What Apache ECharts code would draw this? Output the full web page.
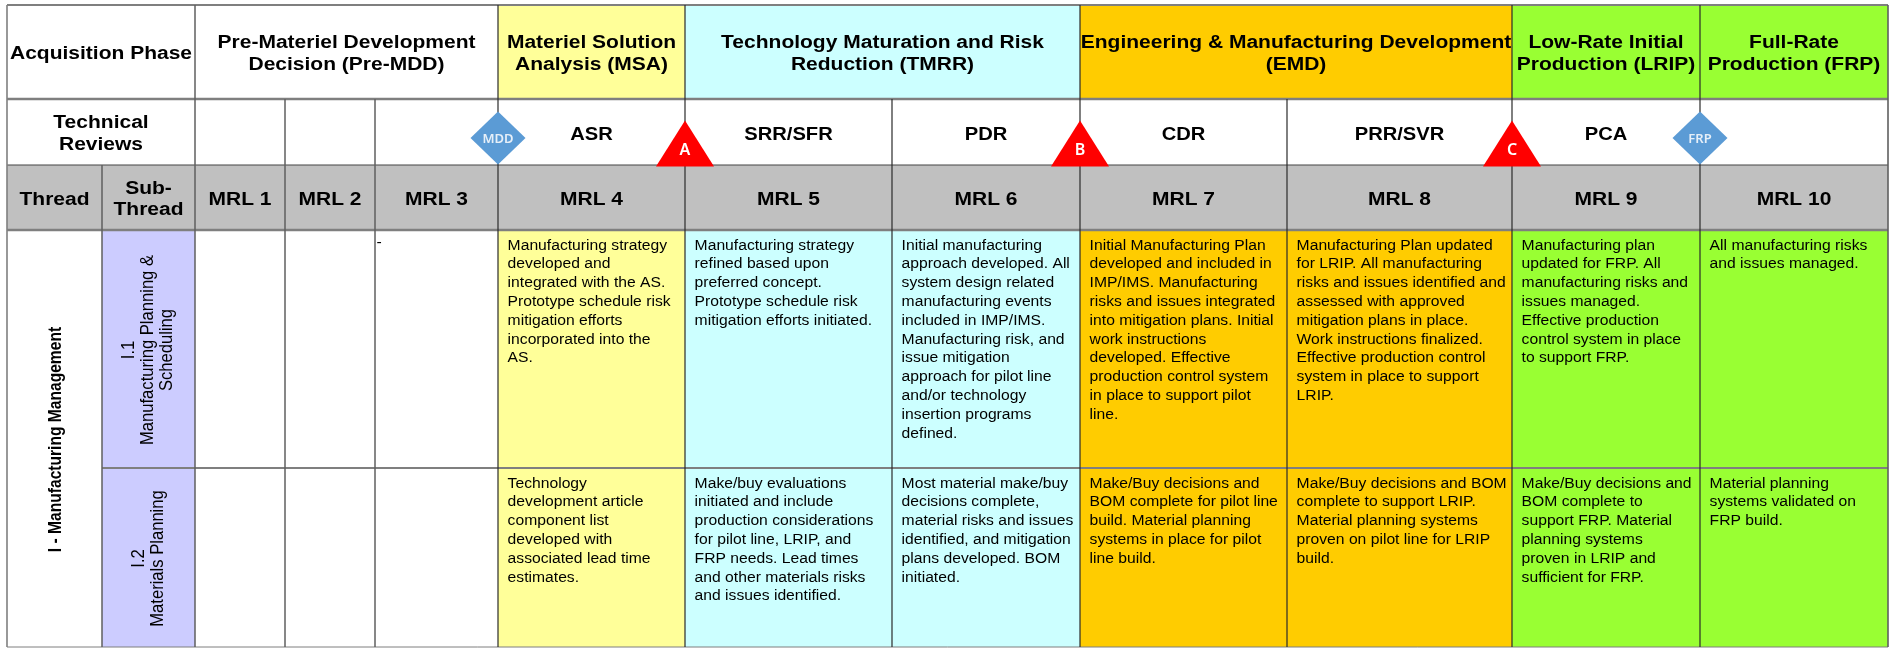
<!DOCTYPE html>
<html><head><meta charset="utf-8">
<style>html,body{margin:0;padding:0;background:#fff}#c{width:1895px;height:648px;filter:blur(0.45px)}</style>
<script src="https://cdn.jsdelivr.net/npm/echarts@6/dist/echarts.min.js"></script>
</head><body><div id="c"></div>
<script>
// ---------- table content ----------
const acquisitionTitle = 'Acquisition Phase';
const phases = [
  'Pre-Materiel Development\nDecision (Pre-MDD)',
  'Materiel Solution\nAnalysis (MSA)',
  'Technology Maturation and Risk\nReduction (TMRR)',
  'Engineering & Manufacturing Development\n(EMD)',
  'Low-Rate Initial\nProduction (LRIP)',
  'Full-Rate\nProduction (FRP)'
];
const reviewsTitle = 'Technical\nReviews';
const reviews = ['', '', '', 'ASR', 'SRR/SFR', 'PDR', 'CDR', 'PRR/SVR', 'PCA', ''];
const threadHeads = ['Thread', 'Sub-\nThread'];
const mrlLabels = ['MRL 1','MRL 2','MRL 3','MRL 4','MRL 5','MRL 6','MRL 7','MRL 8','MRL 9','MRL 10'];
const threadName = 'I - Manufacturing Management';
const subThreads = ['I.1\nManufacturing Planning &\nScheduling', 'I.2\nMaterials Planning'];
const planningTexts = [
  '', '', '-',
  'Manufacturing strategy\ndeveloped and\nintegrated with the AS.\nPrototype schedule risk\nmitigation efforts\nincorporated into the\nAS.',
  'Manufacturing strategy\nrefined based upon\npreferred concept.\nPrototype schedule risk\nmitigation efforts initiated.',
  'Initial manufacturing\napproach developed. All\nsystem design related\nmanufacturing events\nincluded in IMP/IMS.\nManufacturing risk, and\nissue mitigation\napproach for pilot line\nand/or technology\ninsertion programs\ndefined.',
  'Initial Manufacturing Plan\ndeveloped and included in\nIMP/IMS. Manufacturing\nrisks and issues integrated\ninto mitigation plans. Initial\nwork instructions\ndeveloped. Effective\nproduction control system\nin place to support pilot\nline.',
  'Manufacturing Plan updated\nfor LRIP. All manufacturing\nrisks and issues identified and\nassessed with approved\nmitigation plans in place.\nWork instructions finalized.\nEffective production control\nsystem in place to support\nLRIP.',
  'Manufacturing plan\nupdated for FRP. All\nmanufacturing risks and\nissues managed.\nEffective production\ncontrol system in place\nto support FRP.',
  'All manufacturing risks\nand issues managed.'
];
const materialsTexts = [
  '', '', '',
  'Technology\ndevelopment article\ncomponent list\ndeveloped with\nassociated lead time\nestimates.',
  'Make/buy evaluations\ninitiated and include\nproduction considerations\nfor pilot line, LRIP, and\nFRP needs. Lead times\nand other materials risks\nand issues identified.',
  'Most material make/buy\ndecisions complete,\nmaterial risks and issues\nidentified, and mitigation\nplans developed. BOM\ninitiated.',
  'Make/Buy decisions and\nBOM complete for pilot line\nbuild. Material planning\nsystems in place for pilot\nline build.',
  'Make/Buy decisions and BOM\ncomplete to support LRIP.\nMaterial planning systems\nproven on pilot line for LRIP\nbuild.',
  'Make/Buy decisions and\nBOM complete to\nsupport FRP. Material\nplanning systems\nproven in LRIP and\nsufficient for FRP.',
  'Material planning\nsystems validated on\nFRP build.'
];
// milestones: label, column boundary (index into columnEdges), shape
const milestones = [
  ['MDD', 5, 'diamond'], ['A', 6, 'triangle'], ['B', 8, 'triangle'],
  ['C', 10, 'triangle'], ['FRP', 11, 'diamond']
];

// ---------- table geometry (axis scale breakpoints) ----------
const columnEdges = [7, 102, 195, 285, 375, 498, 685, 892, 1080, 1287, 1512, 1700, 1888];
const rowEdges = [5, 99, 165, 230, 468, 647];
// phase spans, by column-edge index
const phaseSpans = [[2,5],[5,6],[6,8],[8,10],[10,11],[11,12]];
const phaseColors = ['#ffffff','#ffff99','#ccffff','#ffcc00','#99ff33','#99ff33'];
const mrlColors = ['#ffffff','#ffffff','#ffffff','#ffff99','#ccffff','#ccffff','#ffcc00','#ffcc00','#99ff33','#99ff33'];

const SX = 1.12;              // the picture is slightly wider than tall
const FONT = '"Liberation Sans", Arial, sans-serif';

// ---------- build cells ----------
const cells = [];
function cell(c0, c1, r0, r1, fill, text, kind) {
  cells.push({ value: [columnEdges[c0], columnEdges[c1], rowEdges[r0], rowEdges[r1]], fill, text: text || '', kind });
}
cell(0, 2, 0, 1, '#ffffff', acquisitionTitle, 'head');
phases.forEach((p, i) => cell(phaseSpans[i][0], phaseSpans[i][1], 0, 1, phaseColors[i], p, 'head'));
cell(0, 2, 1, 2, '#ffffff', reviewsTitle, 'head');
reviews.forEach((t, i) => cell(i + 2, i + 3, 1, 2, '#ffffff', t, 'review'));
threadHeads.forEach((t, i) => cell(i, i + 1, 2, 3, '#c0c0c0', t, 'head'));
mrlLabels.forEach((t, i) => cell(i + 2, i + 3, 2, 3, '#c0c0c0', t, 'head'));
cell(0, 1, 3, 5, '#ffffff', threadName, 'thread');
subThreads.forEach((t, i) => cell(1, 2, 3 + i, 4 + i, '#ccccff', t, 'sub'));
planningTexts.forEach((t, i) => cell(i + 2, i + 3, 3, 4, mrlColors[i], t, t === '-' ? 'dash' : 'body'));
materialsTexts.forEach((t, i) => cell(i + 2, i + 3, 4, 5, mrlColors[i], t, 'body'));

// ---------- rules ----------
const GRAY = '#7f7f7f', DARK = '#2a2a2a', MID = '#5f5f5f';
const rules = [];
function vRule(c, r0, r1, color, w) { rules.push({ value: [columnEdges[c], columnEdges[c], rowEdges[r0], rowEdges[r1]], color, w }); }
function hRule(r, c0, c1, color, w) { rules.push({ value: [columnEdges[c0], columnEdges[c1], rowEdges[r], rowEdges[r]], color, w }); }
hRule(0, 0, 12, GRAY, 2); hRule(1, 0, 12, GRAY, 2.5); hRule(2, 0, 12, '#444444', 1.2);
hRule(3, 0, 12, GRAY, 2.5); hRule(4, 1, 12, GRAY, 2.2); hRule(5, 0, 12, GRAY, 1);
vRule(0, 0, 5, GRAY, 1.6); vRule(1, 2, 5, MID, 1.5); vRule(2, 0, 5, MID, 1.5);
vRule(3, 1, 5, MID, 1.5); vRule(4, 1, 5, MID, 1.5);
[5, 6, 8, 10, 11].forEach(c => vRule(c, 0, 5, DARK, 1.2));
[7, 9].forEach(c => vRule(c, 1, 5, DARK, 1.2));
vRule(12, 0, 5, MID, 1.6);

// ---------- renderers ----------
function rectOf(api) {
  const a = api.coord([api.value(0), api.value(2)]);
  const b = api.coord([api.value(1), api.value(3)]);
  return { x: a[0], y: a[1], w: b[0] - a[0], h: b[1] - a[1] };
}
function renderCell(params, api) {
  const d = cells[params.dataIndex], r = rectOf(api);
  const children = [{ type: 'rect', shape: { x: r.x, y: r.y, width: r.w, height: r.h }, style: { fill: d.fill } }];
  const base = { text: d.text, fill: '#000', fontFamily: FONT };
  if (d.text) {
    if (d.kind === 'head') {
      children.push({ type: 'text', x: r.x + r.w / 2, y: r.y + r.h / 2 + 2, scaleX: SX,
        style: { ...base, fontSize: 18.75, fontWeight: 'bold', lineHeight: 21.5, align: 'center', verticalAlign: 'middle' } });
    } else if (d.kind === 'review') {
      children.push({ type: 'text', x: r.x + r.w / 2, y: r.y + r.h / 2 + 3.5, scaleX: SX,
        style: { ...base, fontSize: 18, fontWeight: 'bold', align: 'center', verticalAlign: 'middle' } });
    } else if (d.kind === 'body') {
      children.push({ type: 'text', x: r.x + 9.6, y: r.y + 6.3, scaleX: SX,
        style: { ...base, fontSize: 14, lineHeight: 18.8, align: 'left', verticalAlign: 'top' } });
    } else if (d.kind === 'dash') {
      children.push({ type: 'text', x: r.x + 1.5, y: r.y + 3.5, scaleX: SX,
        style: { ...base, fontSize: 14, lineHeight: 18.8, align: 'left', verticalAlign: 'top' } });
    } else if (d.kind === 'thread') {
      children.push({ type: 'text', x: r.x + r.w / 2 + 2, y: r.y + r.h / 2 + 1, rotation: Math.PI / 2, scaleY: SX,
        style: { ...base, fontSize: 15.6, fontWeight: 'bold', align: 'center', verticalAlign: 'middle' } });
    } else if (d.kind === 'sub') {
      children.push({ type: 'text', x: r.x + r.w / 2 - 0.5, y: r.y + r.h / 2 + 1, rotation: Math.PI / 2, scaleY: SX,
        style: { ...base, fontSize: 16.6, lineHeight: 17, align: 'center', verticalAlign: 'middle' } });
    }
  }
  return { type: 'group', children };
}
function renderRule(params, api) {
  const d = rules[params.dataIndex];
  const a = api.coord([api.value(0), api.value(2)]);
  const b = api.coord([api.value(1), api.value(3)]);
  return { type: 'line', shape: { x1: a[0], y1: a[1], x2: b[0], y2: b[1] }, style: { stroke: d.color, lineWidth: d.w } };
}

const markerData = milestones.map(([name, edge, shape]) => {
  const tri = shape === 'triangle';
  return {
    name,
    value: [columnEdges[edge], rowEdges[2] + (tri ? -21.5 : -27)],
    symbol: shape,
    symbolSize: tri ? [58, 46] : [55, 53],
    itemStyle: { color: tri ? '#ff0000' : '#5b9bd5', opacity: 1 },
    label: {
      show: true, formatter: name, position: 'inside',
      offset: tri ? [0, 7] : [0, 1],
      color: tri ? '#ffffff' : '#e6eff8',
      fontFamily: '"Noto Sans", sans-serif', fontWeight: 600,
      fontSize: tri ? 16 : 13
    }
  };
});

const chart = echarts.init(document.getElementById('c'), null, { renderer: 'canvas' });
chart.setOption({
  animation: false,
  backgroundColor: '#ffffff',
  grid: { left: 0, right: 0, top: 0, bottom: 0 },
  xAxis: { type: 'value', min: 0, max: 1895, show: false },
  yAxis: { type: 'value', min: 0, max: 648, inverse: true, show: false },
  tooltip: { show: false },
  series: [
    { type: 'custom', name: 'cells', coordinateSystem: 'cartesian2d', clip: false, z: 1, silent: true,
      encode: { x: [0, 1], y: [2, 3] }, data: cells.map(c => c.value), renderItem: renderCell },
    { type: 'custom', name: 'rules', coordinateSystem: 'cartesian2d', clip: false, z: 2, silent: true,
      encode: { x: [0, 1], y: [2, 3] }, data: rules.map(r => r.value), renderItem: renderRule },
    { type: 'scatter', name: 'milestones', z: 3, silent: true, data: markerData }
  ]
});
</script></body></html>
